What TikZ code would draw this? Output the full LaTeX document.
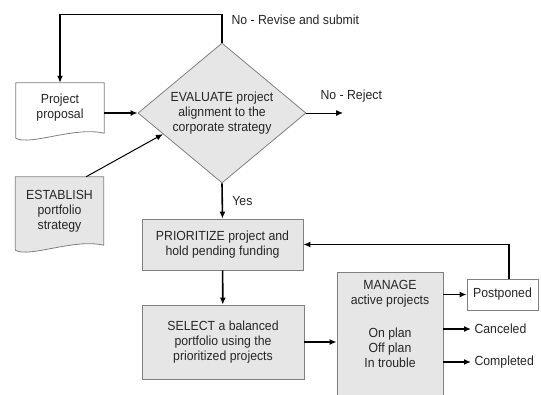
\documentclass[tikz,border=0pt]{standalone}
\usepackage{fontspec}
\setmainfont[FakeStretch=0.93]{Liberation Sans}
\usetikzlibrary{arrows.meta,shapes.geometric,calc,backgrounds}
\definecolor{boxfill}{HTML}{E6E6E6}
\definecolor{boxline}{HTML}{808080}
\definecolor{txtgray}{HTML}{262626}

\tikzset{
  box/.style={rectangle,draw=boxline,line width=0.8pt,fill=boxfill,align=center,text=txtgray},
  doc/.style={rectangle,align=center,text=txtgray,minimum width=88pt},
  lbl/.style={anchor=west,text=txtgray},
  flow/.style={->,line width=1.6pt},
  thinflow/.style={->,line width=1pt}
}

\begin{document}
\begin{tikzpicture}[x=1pt,y=-1pt,>={Latex[length=7pt,width=6pt]},font=\fontsize{13.2}{15}\selectfont]
  \useasboundingbox (0,0) rectangle (541,394);

  % inputs
  \node[doc,minimum height=50pt] (proposal) at (60,108) {Project\\proposal};
  \node[doc,minimum height=68pt] (establish) at (59.5,211) {ESTABLISH\\portfolio\\strategy};
  \begin{pgfonlayer}{background}
    \foreach \d/\f in {proposal/white,establish/boxfill}
      \draw[draw=boxline,line width=0.8pt,fill=\f] (\d.north west) -- (\d.north east) -- (\d.south east)
        .. controls +(-30,-7) and +(14,8) .. ([yshift=-5pt]\d.south west) -- cycle;
  \end{pgfonlayer}

  % decision
  \node[diamond,draw=boxline,line width=0.8pt,fill=boxfill,aspect=1.2,inner sep=0pt,
        minimum width=168pt,minimum height=140pt,align=center,text=txtgray]
        (evaluate) at (222,113) {EVALUATE project\\alignment to the\\corporate strategy};
  \node[lbl] (revise) at (228,20) {No - Revise and submit};
  \node[lbl] (reject) at (317,96) {No - Reject};
  \coordinate (rejectend) at (343,113);

  % steps
  \node[box,minimum width=161pt,minimum height=51pt] (prioritize) at (222.5,244.5) {PRIORITIZE project and\\hold pending funding};
  \node[box,minimum width=162pt,minimum height=74pt] (select) at (223,342) {SELECT a balanced\\portfolio using the\\prioritized projects};
  \node[box,minimum width=106pt,minimum height=130pt,anchor=north] (manage) at (390,272) {};
  \node[anchor=north,align=center,text=txtgray] (managetxt) at (390,277) {MANAGE\\active projects\\[18pt]On plan\\Off plan\\In trouble};

  % outcomes
  \node[rectangle,draw=boxline,line width=0.8pt,fill=white,minimum width=71pt,minimum height=31pt,text=txtgray] (postponed) at (502.5,294.5) {Postponed};
  \node[lbl] (canceled) at (471,329) {Canceled};
  \node[lbl] (completed) at (471,362) {Completed};

  \draw[flow] (evaluate.north) -- ++(0,-28) -| (proposal.north);
  \draw[flow] (proposal.east |- evaluate.west) -- (evaluate.west);
  \draw[thinflow] ($(establish.north)!0.6!(establish.north east)$) -- ($(evaluate.west)!0.3!(evaluate.south)$);
  \draw[thinflow] (evaluate.east) -- (rejectend);
  \draw[flow] (evaluate.south) -- node[right=6pt,text=txtgray]{Yes} (prioritize.north);
  \draw[flow] (prioritize) -- (select);
  \draw[flow] (select.east) -- (select.east -| manage.west);
  \draw[flow] (manage.east |- postponed) -- (postponed.west);
  \draw[flow] (manage.east |- canceled) -- (canceled.west);
  \draw[flow] (manage.east |- completed) -- (completed.west);
  \draw[flow] ([xshift=6.5pt]postponed.north) |- (prioritize.east);
\end{tikzpicture}
\end{document}
